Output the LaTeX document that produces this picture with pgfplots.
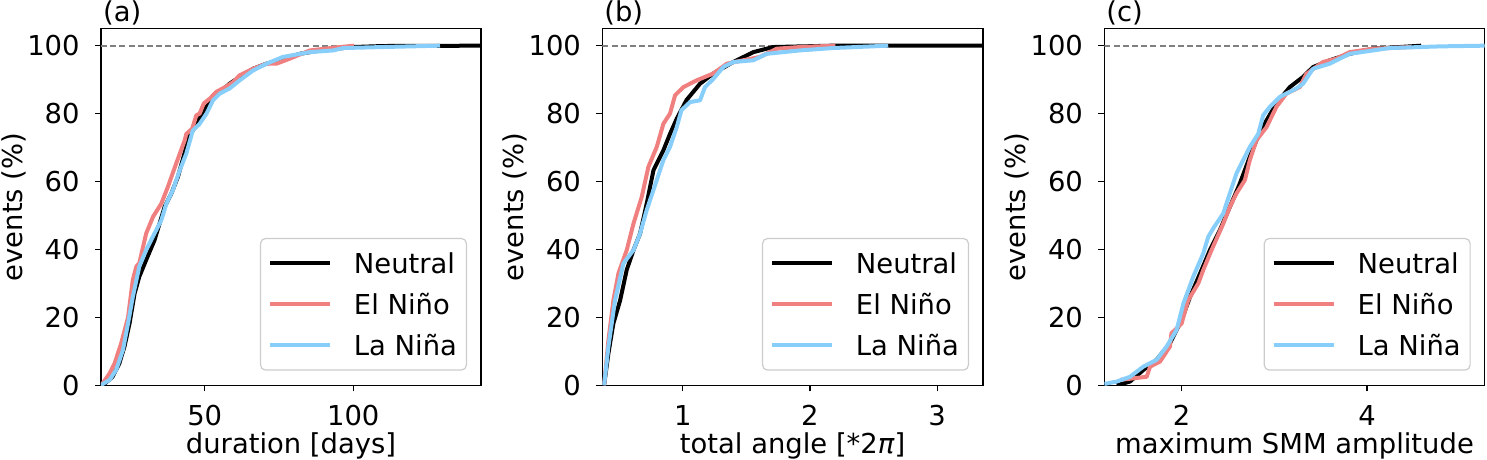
\documentclass[border=0pt]{standalone}
\usepackage{fontspec}
\setmainfont{DejaVu Sans}
\usepackage{pgfplots}
\pgfplotsset{compat=1.18}
\definecolor{nino}{RGB}{240,128,128}
\definecolor{nina}{RGB}{135,206,250}
\newcommand{\fs}{\fontsize{13.7}{16}\selectfont}
\pgfplotsset{
 cdfax/.style={
  scale only axis, height=178.3pt, ymin=0, ymax=105,
  axis line style={line width=0.6pt},
  tick align=outside, xtick pos=bottom, ytick pos=left,
  major tick length=3pt, every tick/.style={black, line width=0.6pt},
  ytick={0,20,40,60,80,100},
  /pgf/number format/assume math mode=true,
  tick label style={font=\fs, inner sep=0pt},
  xticklabel style={anchor=base, yshift=-17pt},
  yticklabel style={anchor=east, xshift=-7.5pt},
  every axis x label/.style={at={(axis description cs:0.5,0)}, anchor=base, yshift=-33.9pt, font=\fs, inner sep=0pt},
  every axis y label/.style={at={([xshift=-39.2pt]axis description cs:0,0.5)}, rotate=90, anchor=base, font=\fs, inner sep=0pt},
  every axis title/.style={at={(axis description cs:0,1)}, anchor=base west, yshift=3.65pt, xshift=0.85pt, inner sep=0pt, font=\fs},
  ylabel={events (\%)},
  legend cell align=left,
  legend image code/.code={\path[draw=none] (0pt,0pt) -- (41pt,0pt); \draw[##1] (0pt,0pt) -- (30pt,0pt);},
  legend style={at={(axis description cs:1,0)}, anchor=south east, xshift=-7pt, yshift=7.3pt,
    draw=black!20, line width=0.6pt, rounded corners=2.5pt, fill=white, font=\fs,
    inner xsep=3.7pt, inner ysep=5.3pt, row sep=6.6pt,
    nodes={inner sep=1pt, text height=11pt, text depth=1pt}},
  neu/.style={black, line width=2pt, line join=round},
  eln/.style={nino, line width=2pt, line join=round},
  lan/.style={nina, line width=2pt, line join=round},
  ref/.style={gray, line width=0.9pt, dash pattern=on 3pt off 1.6pt, forget plot},
 }
}
\begin{document}
\begin{tikzpicture}
\useasboundingbox (0,0) rectangle (743.5pt,230pt);
% ---------------- (a)
\begin{axis}[cdfax, at={(50.5pt,37.35pt)}, anchor=south west, width=190pt,
  xmin=15.1, xmax=143, xtick={50,100}, xlabel={duration [days]}, title={(a)}]
\addplot[ref] coordinates {(15.1,100) (143,100)};
\addplot[neu] coordinates {(15.7,0) (19,2.5) (21.3,6.5) (23,11.4) (24.7,18.2) (26.4,27) (28,32) (30.3,36.9) (33.1,42.7) (34.8,47.6) (36.5,52.5) (38.8,56.5) (41,61.4) (43.8,70.2) (45,74) (46,75) (47.8,78) (50.6,82) (53.9,85.4) (58.4,88.8) (61.8,90.8) (66.3,93.2) (70.8,94.7) (75.3,95.7) (82,97.6) (88.8,98.6) (100,99.6) (110,99.9) (143,100)};
\addlegendentry{Neutral}
\addplot[eln] coordinates {(15.2,0) (18,3.5) (19.7,6.5) (21.9,12.4) (24.2,20) (25.8,31) (27,35) (28,36) (30.3,44.7) (32.6,49.6) (35.4,53.5) (37.6,58.4) (40.4,65.3) (43.3,72.2) (43.8,74) (45.8,75.6) (47.2,79.5) (48.3,80) (49.7,83) (51.7,84.4) (53.9,86.4) (57.3,88) (59.6,89.3) (61.8,91.3) (66.3,93.2) (70.8,94.7) (74.2,94.7) (78.7,96.2) (85.4,98.6) (93.3,99.4) (100.3,100)};
\addlegendentry{El Niño}
\addplot[lan] coordinates {(15,0) (18,1.6) (20.2,4.5) (22.5,10.4) (24.2,18.2) (25.8,26) (28,35) (30.3,39.8) (33.1,44.7) (35.4,48.6) (37.1,53.5) (39.3,57.5) (41.6,63.3) (43.8,68.2) (46,75) (48.3,77) (50.6,80) (52.8,83.9) (55.1,85.9) (58.4,87.4) (61.8,89.8) (66.3,92.7) (70.8,94.7) (76.4,96.7) (85.4,98.1) (93.3,98.6) (96.6,99.3) (110,99.6) (129.2,100)};
\addlegendentry{La Niña}
\end{axis}
% ---------------- (b)
\begin{axis}[cdfax, at={(301.15pt,37.35pt)}, anchor=south west, width=190.35pt,
  xmin=0.368, xmax=3.36, xtick={1,2,3}, xlabel={total angle [*2\textit{π}]}, title={(b)}]
\addplot[ref] coordinates {(0.368,100) (3.36,100)};
\addplot[neu] coordinates {(0.382,0) (0.416,9.4) (0.455,18.2) (0.508,25) (0.56,34) (0.613,39.8) (0.665,44.7) (0.717,53.5) (0.77,63.3) (0.848,69.2) (0.9,74) (0.953,78.5) (1.03,84) (1.136,88.8) (1.24,91.8) (1.398,95.2) (1.555,98.1) (1.71,99.6) (2.18,100) (3.36,100)};
\addlegendentry{Neutral}
\addplot[eln] coordinates {(0.382,0) (0.416,13.3) (0.455,25) (0.495,33) (0.56,39.8) (0.613,47.6) (0.678,55.5) (0.73,64.3) (0.796,70.2) (0.848,77) (0.9,80) (0.94,85.4) (1.005,87.8) (1.11,89.8) (1.24,91.8) (1.346,94.7) (1.476,95.7) (1.607,96.7) (1.738,99.1) (1.92,99.6) (2.2,100)};
\addlegendentry{El Niño}
\addplot[lan] coordinates {(0.382,0) (0.416,11.4) (0.468,25) (0.534,35.9) (0.613,39.8) (0.665,44.7) (0.717,51.6) (0.77,57.5) (0.848,66.3) (0.9,70.2) (0.953,76) (0.99,81) (1.058,83.4) (1.136,83.9) (1.175,87.8) (1.24,90.2) (1.319,93.7) (1.398,95.2) (1.555,95.7) (1.66,97.6) (1.92,98.6) (2.18,99.3) (2.615,100)};
\addlegendentry{La Niña}
\end{axis}
% ---------------- (c)
\begin{axis}[cdfax, at={(552.15pt,37.35pt)}, anchor=south west, width=190.2pt,
  xmin=1.166, xmax=5.27, xtick={2,4}, xlabel={maximum SMM amplitude}, title={(c)}]
\addplot[ref] coordinates {(1.166,100) (5.27,100)};
\addplot[neu] coordinates {(1.3,0) (1.443,1.1) (1.587,4.5) (1.73,7.5) (1.874,12.4) (2.0,19.2) (2.09,26) (2.2,33) (2.305,39.8) (2.413,45.7) (2.52,52.5) (2.628,59.4) (2.736,67.3) (2.808,72.2) (2.916,78) (3.023,83) (3.167,87.8) (3.31,90.8) (3.418,93.7) (3.598,95.7) (3.813,97.6) (4.065,99.1) (4.585,100)};
\addlegendentry{Neutral}
\addplot[eln] coordinates {(1.336,1.6) (1.623,2.5) (1.66,5.5) (1.767,7) (1.874,11.4) (1.89,15.3) (2.0,18.2) (2.07,25) (2.18,30) (2.233,33.9) (2.323,39.8) (2.449,47.6) (2.52,52.5) (2.592,56.5) (2.682,60.4) (2.736,66.3) (2.808,72.2) (2.916,76) (3.023,82) (3.131,85.9) (3.275,87.8) (3.346,91.7) (3.526,95.2) (3.67,96.2) (3.813,98.1) (4.065,99.1) (4.478,99.6)};
\addlegendentry{El Niño}
\addplot[lan] coordinates {(1.167,0.4) (1.3,1.1) (1.443,2.5) (1.587,5.5) (1.73,7.5) (1.838,11.4) (1.946,16.3) (2.018,24) (2.126,32) (2.233,38.8) (2.287,43.7) (2.341,46.2) (2.449,50.6) (2.52,56.5) (2.592,62.4) (2.736,70.2) (2.826,74) (2.88,79.5) (2.952,82) (3.059,84.9) (3.239,87.4) (3.31,88.8) (3.418,93.2) (3.598,94.7) (3.813,97.6) (4.244,99.3) (4.8,99.8) (5.27,100)};
\addlegendentry{La Niña}
\end{axis}
\end{tikzpicture}
\end{document}
